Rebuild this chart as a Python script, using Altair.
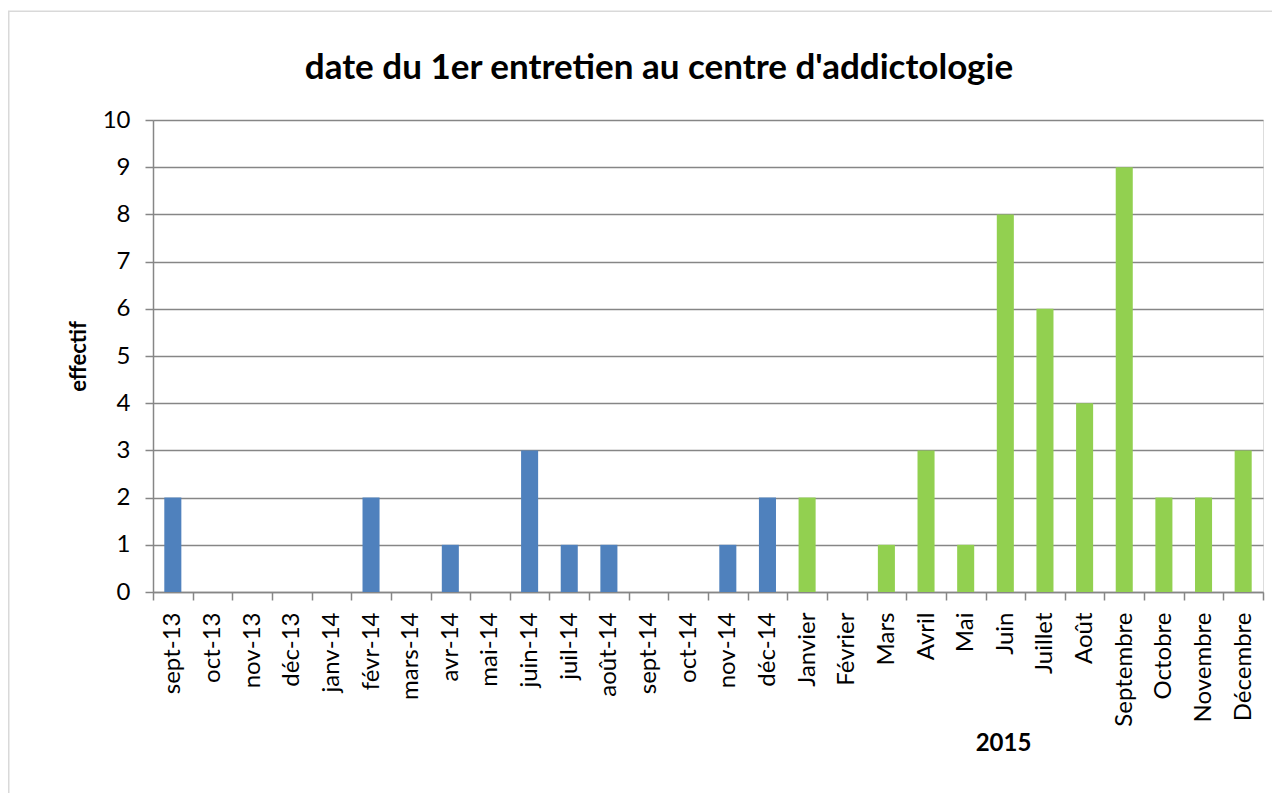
import altair as alt
import pandas as pd

months = ["sept-13", "oct-13", "nov-13", "déc-13", "janv-14", "févr-14", "mars-14",
          "avr-14", "mai-14", "juin-14", "juil-14", "août-14", "sept-14", "oct-14",
          "nov-14", "déc-14", "Janvier", "Février", "Mars", "Avril", "Mai", "Juin",
          "Juillet", "Août", "Septembre", "Octobre", "Novembre", "Décembre"]
counts = [2, 0, 0, 0, 0, 2, 0, 1, 0, 3, 1, 1, 0, 0, 1, 2,
          2, 0, 1, 3, 1, 8, 6, 4, 9, 2, 2, 3]
periods = ["2013-2014"] * 16 + ["2015"] * 12
period_names = ["2013-2014", "2015"]
period_colors = ["#4F81BD", "#92D050"]

df = pd.DataFrame({"mois": months, "effectif": counts, "periode": periods})

FONT = "Lato"
GRID = "#868686"
W, H = 1110, 472

bars = alt.Chart(df).mark_bar(width=alt.RelativeBandSize(0.43)).encode(
    x=alt.X("mois:N", sort=months,
            scale=alt.Scale(paddingInner=0, paddingOuter=0),
            axis=alt.Axis(title="2015", labelAngle=-90, labelAlign="right",
                          labelBaseline="middle", labelFontSize=24, labelFont=FONT,
                          labelColor="#000000", labelPadding=12,
                          tickBand="extent", tickSize=8, tickColor=GRID, tickWidth=1.5,
                          domainColor=GRID, domainWidth=1.5, grid=False,
                          titleFont=FONT, titleFontSize=24, titleFontWeight="bold",
                          titleColor="#000000", titleX=850, titleY=151,
                          titleAlign="center", titleBaseline="middle")),
    y=alt.Y("effectif:Q", scale=alt.Scale(domain=[0, 10], nice=False),
            axis=alt.Axis(title="effectif", values=list(range(0, 11)),
                          labelFontSize=24, labelFont=FONT, labelColor="#000000",
                          labelPadding=15, tickSize=8, tickColor=GRID, tickWidth=1.5,
                          domainColor=GRID, domainWidth=1.5,
                          grid=True, gridColor=GRID, gridWidth=1.5,
                          titleFont=FONT, titleFontSize=22, titleFontWeight="bold",
                          titleColor="#000000", titleX=-75, titleY=H / 2,
                          titleAngle=-90, titleAlign="center", titleBaseline="middle")),
    color=alt.Color("periode:N", scale=alt.Scale(domain=period_names, range=period_colors),
                    legend=None),
)

frame = alt.Chart(alt.Data(values=[{}])).mark_rect(
    fill=None, stroke="#D9D9D9", strokeWidth=1.5
).encode(
    x=alt.value(-144.25), x2=alt.value(W + 12),
    y=alt.value(-108.75), y2=alt.value(H + 210),
)

chart = alt.layer(frame, bars).properties(
    width=W, height=H,
    title=alt.TitleParams("date du 1er entretien au centre d'addictologie",
                          font=FONT, fontSize=35, fontWeight="bold", color="#000000",
                          anchor="middle", frame="group", dx=-49, offset=-103,
                          baseline="alphabetic"),
    autosize=alt.AutoSizeParams(type="none"),
    padding={"left": 145, "top": 112, "right": 9, "bottom": 201},
).configure_view(stroke=None).configure(background="#FFFFFF")

chart.save("out.html", embed_options={"renderer": "svg", "actions": False})
